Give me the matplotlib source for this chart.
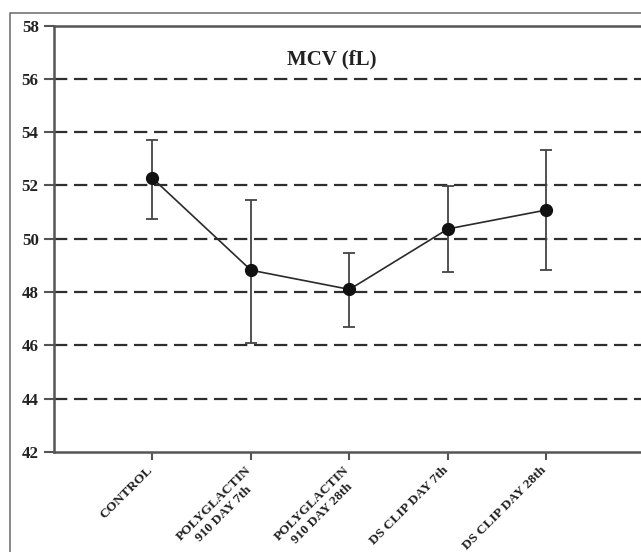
import matplotlib
matplotlib.use('Agg')
import matplotlib.pyplot as plt
import matplotlib.transforms as mtransforms
from matplotlib.patches import Rectangle

# Data
groups = ['CONTROL', 'POLYGLACTIN\n910 DAY 7th', 'POLYGLACTIN\n910 DAY 28th',
          'DS CLIP DAY 7th', 'DS CLIP DAY 28th']
mcv_mean = [52.27, 48.82, 48.10, 50.37, 51.08]
err_upper = [53.70, 51.46, 49.45, 51.98, 53.33]
err_lower = [50.75, 46.10, 46.70, 48.74, 48.82]
y_ticks = [42, 44, 46, 48, 50, 52, 54, 56, 58]

plt.rcParams['font.family'] = ['Liberation Serif', 'DejaVu Serif']

x = list(range(len(groups)))
yerr = [[m - lo for m, lo in zip(mcv_mean, err_lower)],
        [hi - m for m, hi in zip(mcv_mean, err_upper)]]

fig = plt.figure(figsize=(6.41, 5.52), dpi=100)
ax = fig.add_axes([54 / 641, 100 / 552, 591 / 641, 426.5 / 552])

# outer frame of the original figure
fig.patches.append(Rectangle((10 / 641, -0.1), 1.2, 0.1 + (552 - 13) / 552,
                             transform=fig.transFigure, fill=False,
                             edgecolor='#6a6a6a', linewidth=1.1))

# dashed horizontal grid
for yv in y_ticks[1:-1]:
    ax.axhline(yv, color='#2e2e2e', linewidth=1.6, dashes=(6, 3), zorder=1)

ax.errorbar(x, mcv_mean, yerr=yerr, fmt='-o', color='#2a2a2a', ecolor='#444444',
            elinewidth=1.3, capsize=4.5, capthick=1.3, linewidth=1.2,
            markersize=8.5, markerfacecolor='#111111', markeredgecolor='#111111',
            zorder=3)

ax.set_xlim(-1, 5)
ax.set_ylim(42, 58)
ax.tick_params(axis='y', direction='out', length=7, width=1.5, color='#555555', pad=4)
ax.tick_params(axis='x', direction='out', length=6, width=1.5, color='#555555', pad=3)

ax.set_yticks(y_ticks)
ax.set_yticklabels([str(v) for v in y_ticks], fontsize=12.2, fontweight='bold',
                   color='#222222')
ax.set_xticks(x)
ax.set_xticklabels(groups, rotation=45, ha='right', rotation_mode='anchor',
                   fontsize=9.7, fontweight='bold', multialignment='center',
                   color='#222222')

# nudge rotated category labels slightly left, as in the original
shift = mtransforms.ScaledTranslation(-6 / 100, 0, fig.dpi_scale_trans)
for lbl in ax.get_xticklabels():
    lbl.set_transform(lbl.get_transform() + shift)

for side in ['left', 'bottom', 'top']:
    ax.spines[side].set_color('#555555')
    ax.spines[side].set_linewidth(1.8)
ax.spines['right'].set_visible(False)

ax.text(0.47, 0.92, 'MCV (fL)', transform=ax.transAxes, ha='center', va='center',
        fontsize=15, fontweight='bold', color='#222222')

fig.savefig('out.png', dpi=100)
